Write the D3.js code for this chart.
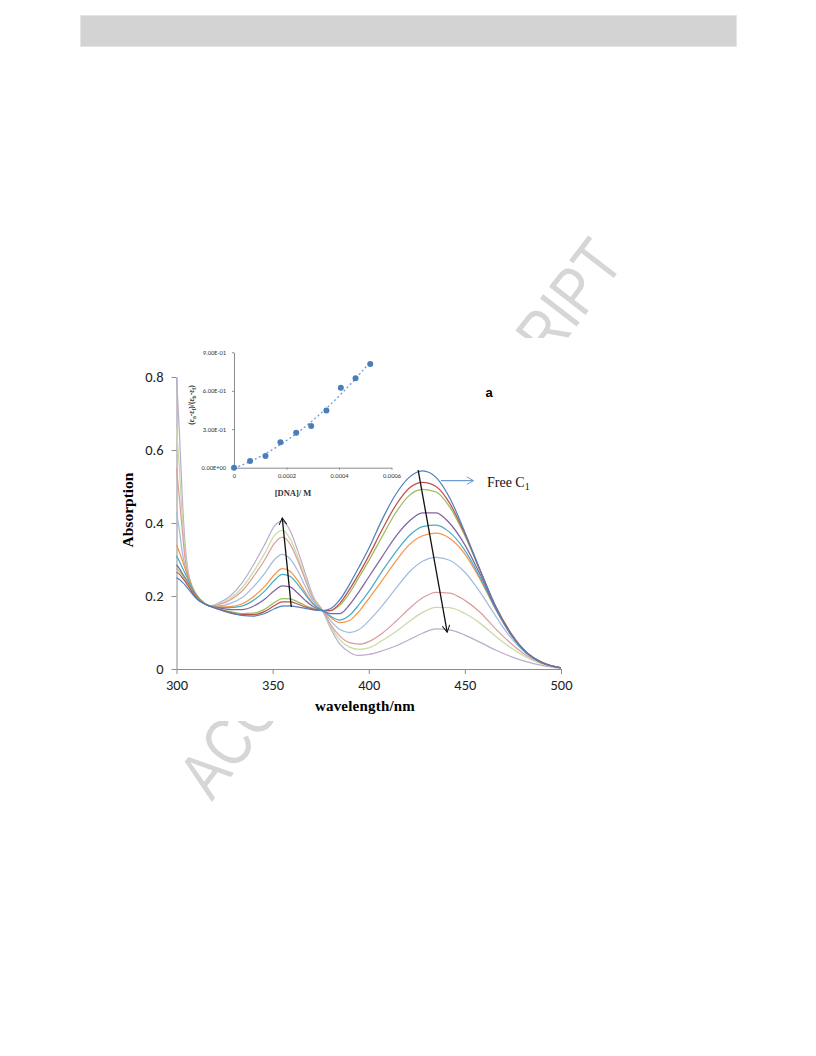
<!DOCTYPE html>
<html><head><meta charset="utf-8">
<script src="https://cdn.jsdelivr.net/npm/d3@7"></script>
<style>body{margin:0;background:#fff}</style>
</head><body>
<svg id="c" width="816" height="1056"></svg>
<script>
// ---------- data ----------
const wavelengths = [300,301.5,303,304.5,306,308,311,314,317,322,328,334,340,346,351,355,359,363,367,371,376,
  380,385,390,395,400,407,414,421,428,435,442,450,458,466,474,482,490,500];
const s1 = [0.25,0.245,0.238,0.23,0.22,0.207,0.19,0.18,0.173,0.163,0.153,0.147,0.145,0.152,0.165,0.172,0.173,0.17,0.166,0.162,0.16,
  0.165,0.19,0.232,0.28,0.33,0.41,0.478,0.525,0.543,0.525,0.47,0.375,0.27,0.17,0.095,0.045,0.017,0.003];
const s2 = [0.265,0.26,0.25,0.24,0.228,0.212,0.192,0.18,0.173,0.164,0.155,0.149,0.149,0.158,0.174,0.184,0.184,0.178,0.17,0.164,0.16,
  0.16,0.18,0.218,0.262,0.31,0.382,0.448,0.495,0.511,0.5,0.455,0.37,0.27,0.172,0.098,0.046,0.018,0.003];
const s3 = [0.275,0.268,0.258,0.246,0.233,0.215,0.194,0.181,0.173,0.165,0.157,0.152,0.153,0.164,0.182,0.193,0.192,0.184,0.174,0.166,0.16,
  0.16,0.175,0.208,0.252,0.297,0.363,0.428,0.475,0.492,0.485,0.445,0.365,0.268,0.172,0.098,0.046,0.018,0.003];
const s4 = [0.285,0.275,0.262,0.25,0.236,0.217,0.195,0.181,0.173,0.167,0.163,0.163,0.172,0.192,0.215,0.228,0.225,0.208,0.188,0.171,0.16,
  0.152,0.152,0.176,0.212,0.252,0.308,0.363,0.405,0.428,0.428,0.4,0.34,0.258,0.168,0.095,0.045,0.018,0.003];
const s5 = [0.31,0.295,0.278,0.262,0.245,0.222,0.197,0.182,0.173,0.169,0.168,0.172,0.188,0.214,0.243,0.259,0.254,0.232,0.204,0.178,0.16,
  0.145,0.134,0.147,0.177,0.212,0.268,0.32,0.365,0.39,0.394,0.375,0.325,0.25,0.165,0.094,0.045,0.018,0.003];
const s6 = [0.34,0.32,0.298,0.275,0.254,0.226,0.198,0.182,0.173,0.17,0.171,0.178,0.198,0.227,0.259,0.275,0.268,0.243,0.21,0.18,0.16,
  0.142,0.127,0.133,0.158,0.193,0.243,0.295,0.34,0.365,0.372,0.358,0.315,0.245,0.163,0.093,0.045,0.018,0.003];
const s7 = [0.43,0.38,0.32,0.28,0.252,0.225,0.198,0.182,0.173,0.173,0.18,0.195,0.225,0.263,0.3,0.314,0.302,0.27,0.226,0.186,0.16,
  0.133,0.108,0.1,0.108,0.132,0.173,0.22,0.265,0.295,0.306,0.298,0.265,0.21,0.145,0.085,0.042,0.017,0.003];
const s8 = [0.55,0.47,0.38,0.3,0.258,0.226,0.198,0.182,0.173,0.176,0.189,0.213,0.253,0.3,0.345,0.361,0.343,0.298,0.244,0.193,0.16,
  0.123,0.09,0.072,0.068,0.075,0.098,0.13,0.165,0.195,0.21,0.208,0.188,0.155,0.11,0.07,0.037,0.016,0.003];
const s9 = [0.66,0.55,0.42,0.32,0.262,0.227,0.198,0.182,0.173,0.178,0.193,0.222,0.266,0.318,0.366,0.38,0.358,0.308,0.25,0.196,0.16,
  0.118,0.08,0.06,0.054,0.058,0.078,0.102,0.13,0.155,0.169,0.168,0.152,0.125,0.09,0.058,0.032,0.014,0.003];
const s10 = [0.80,0.65,0.47,0.34,0.268,0.228,0.198,0.182,0.173,0.181,0.2,0.235,0.285,0.342,0.392,0.405,0.38,0.325,0.262,0.2,0.16,
  0.113,0.068,0.046,0.037,0.04,0.05,0.063,0.08,0.098,0.11,0.107,0.093,0.073,0.052,0.034,0.02,0.01,0.002];
const seriesColors = ["#4F81BD","#C0504D","#9BBB59","#8064A2","#4BACC6","#F79646","#A2BDDD","#DC9E9C","#C9DBA5","#BCADCE"];
const xTicks = [300,350,400,450,500];
const yTicks = [0,0.2,0.4,0.6,0.8];

// inset data
const dnaConc = [0,0.0000612,0.00012,0.000177,0.000237,0.000294,0.000352,0.000407,0.000463,0.000519];
const ratio   = [0,0.052,0.091,0.198,0.273,0.325,0.447,0.624,0.697,0.809];
const insetXTicks = [0,0.0002,0.0004,0.0006];
const insetYTicks = [0,0.3,0.6,0.9];
const insetYLabels = ["0.00E+00","3.00E-01","6.00E-01","9.00E-01"];

// arrows in data coords
const arrowUp = [[359.7,0.17],[355,0.414]];
const arrowDown = [[425.7,0.545],[440.8,0.101]];
const freeArrow = [[437.5,0.516],[454.5,0.516]];

// ---------- drawing ----------
const svg = d3.select("#c");
svg.append("rect").attr("width",816).attr("height",1056).attr("fill","#fff");

// header bar
svg.append("rect").attr("x",80.5).attr("y",15.5).attr("width",656).attr("height",31)
  .attr("fill","#d3d3d3").attr("stroke","#e6e6e6");

// watermark
svg.append("text").attr("transform","translate(400,518) rotate(-52.5)")
  .attr("text-anchor","middle").attr("dominant-baseline","central")
  .attr("font-family","Liberation Sans, Arial, sans-serif").attr("font-size",67)
  .attr("fill","#d6d6d6").attr("textLength",680).attr("lengthAdjust","spacingAndGlyphs")
  .text("ACCEPTED MANUSCRIPT");

// white image area
svg.append("rect").attr("x",100).attr("y",338).attr("width",545).attr("height",383).attr("fill","#fff");

const x = d3.scaleLinear().domain([300,500]).range([176.5,561]);
const y = d3.scaleLinear().domain([0,0.8]).range([669,377]);

const axisColor = "#8c8c8c";
const gx = svg.append("g").attr("transform","translate(0,669)")
  .call(d3.axisBottom(x).tickValues(xTicks).tickSize(5).tickSizeOuter(0).tickPadding(6));
const gy = svg.append("g").attr("transform","translate(176.5,0)")
  .call(d3.axisLeft(y).tickValues(yTicks).tickSize(5).tickSizeOuter(0).tickPadding(8)
    .tickFormat(d=>d===0?"0":d3.format(".1f")(d)));
[gx,gy].forEach(g=>{
  g.select(".domain").attr("stroke",axisColor);
  g.selectAll(".tick line").attr("stroke",axisColor);
  g.selectAll(".tick text").attr("font-family","Carlito, Lato, sans-serif").attr("font-size",14.5).attr("fill","#222");
});

// curves
const allSeries = [s1,s2,s3,s4,s5,s6,s7,s8,s9,s10];
const line = d3.line().x((d,i)=>x(wavelengths[i])).y(d=>y(d)).curve(d3.curveMonotoneX);
allSeries.slice().reverse().forEach((s,k)=>{
  const i = allSeries.length-1-k;
  svg.append("path").datum(s).attr("d",line).attr("fill","none")
    .attr("stroke",seriesColors[i]).attr("stroke-width",1.25);
});

// axis titles
svg.append("text").attr("transform","translate(133,510) rotate(-90)").attr("text-anchor","middle")
  .attr("font-family","Liberation Serif, Times New Roman, serif").attr("font-weight","bold").attr("font-size",15.5)
  .text("Absorption");
svg.append("text").attr("x",365).attr("y",711).attr("text-anchor","middle")
  .attr("font-family","Liberation Serif, Times New Roman, serif").attr("font-weight","bold").attr("font-size",15)
  .attr("letter-spacing",0.2).text("wavelength/nm");

// markers
const defs = svg.append("defs");
function mk(id,color){
  defs.append("marker").attr("id",id).attr("viewBox","-10 -6 12 12").attr("refX",0).attr("refY",0)
    .attr("markerWidth",10).attr("markerHeight",10).attr("markerUnits","userSpaceOnUse").attr("orient","auto")
    .append("path").attr("d","M-8,-4.5 L0,0 L-8,4.5").attr("fill","none").attr("stroke",color).attr("stroke-width",1.2);
}
mk("ab","#111"); mk("abl","#6f9bd3");
function arrow(pts,color,mid,w){
  svg.append("line").attr("x1",x(pts[0][0])).attr("y1",y(pts[0][1])).attr("x2",x(pts[1][0])).attr("y2",y(pts[1][1]))
    .attr("stroke",color).attr("stroke-width",w).attr("marker-end",`url(#${mid})`);
}
arrow(arrowUp,"#111","ab",1.3);
arrow(arrowDown,"#111","ab",1.3);
arrow(freeArrow,"#6f9bd3","abl",1.2);

const ft = svg.append("text").attr("x",x(461.5)).attr("y",487)
  .attr("font-family","Liberation Serif, Times New Roman, serif").attr("font-size",14).attr("fill","#111");
ft.append("tspan").text("Free C");
ft.append("tspan").attr("font-size",10).attr("dy",3).text("1");

svg.append("text").attr("x",489).attr("y",397).attr("text-anchor","middle")
  .attr("font-family","Liberation Sans, Arial, sans-serif").attr("font-weight","bold").attr("font-size",13)
  .text("a");

// ---------- inset ----------
const ix = d3.scaleLinear().domain([0,0.0006]).range([234,391.5]);
const iy = d3.scaleLinear().domain([0,0.9]).range([467.7,352.3]);
const igx = svg.append("g").attr("transform","translate(0,467.7)")
  .call(d3.axisBottom(ix).tickValues(insetXTicks).tickSize(2).tickSizeOuter(0).tickPadding(4)
    .tickFormat(d=>d===0?"0":d3.format(".4f")(d)));
const igy = svg.append("g").attr("transform","translate(234,0)")
  .call(d3.axisLeft(iy).tickValues(insetYTicks).tickSize(2).tickSizeOuter(0).tickPadding(6)
    .tickFormat((d,i)=>insetYLabels[i]));
[igx,igy].forEach(g=>{
  g.select(".domain").attr("stroke",axisColor);
  g.selectAll(".tick line").attr("stroke",axisColor);
  g.selectAll(".tick text").attr("font-family","Carlito, Lato, sans-serif").attr("font-size",6.5).attr("fill","#333");
});

// trendline (least-squares quadratic through the points)
(function(){
  const n=dnaConc.length; let S=[[0,0,0],[0,0,0],[0,0,0]], T=[0,0,0];
  for(let k=0;k<n;k++){const v=[1,dnaConc[k],dnaConc[k]**2];
    for(let a=0;a<3;a++){T[a]+=v[a]*ratio[k];for(let b=0;b<3;b++)S[a][b]+=v[a]*v[b];}}
  const M=S.map((r,i)=>[...r,T[i]]);
  for(let c=0;c<3;c++){let p=c;for(let r=c+1;r<3;r++)if(Math.abs(M[r][c])>Math.abs(M[p][c]))p=r;
    [M[c],M[p]]=[M[p],M[c]];for(let r=0;r<3;r++){if(r===c)continue;const f=M[r][c]/M[c][c];
      for(let k=c;k<4;k++)M[r][k]-=f*M[c][k];}}
  const co=[M[0][3]/M[0][0],M[1][3]/M[1][1],M[2][3]/M[2][2]];
  const xs=d3.range(0,dnaConc[n-1]*1.0001,dnaConc[n-1]/60);
  svg.append("path").datum(xs).attr("fill","none").attr("stroke","#6f9bd3").attr("stroke-width",1.3)
    .attr("stroke-dasharray","2,2.5")
    .attr("d",d3.line().x(d=>ix(d)).y(d=>iy(Math.max(0,co[0]+co[1]*d+co[2]*d*d))));
})();
svg.selectAll("circle.pt").data(dnaConc).enter().append("circle").attr("class","pt")
  .attr("cx",d=>ix(d)).attr("cy",(d,i)=>iy(ratio[i])).attr("r",3).attr("fill","#4A7EBB");

svg.append("text").attr("x",293).attr("y",495.5).attr("text-anchor","middle")
  .attr("font-family","Liberation Serif, Times New Roman, serif").attr("font-weight","bold").attr("font-size",8.5)
  .attr("fill","#333").text("[DNA]/ M");
const yt = svg.append("text").attr("transform","translate(194,405) rotate(-90)").attr("text-anchor","middle")
  .attr("font-family","Liberation Serif, Times New Roman, serif").attr("font-weight","bold").attr("font-size",7.5)
  .attr("fill","#333");
yt.append("tspan").text("(ε");
yt.append("tspan").attr("font-size",5.5).attr("dy",1.5).text("a");
yt.append("tspan").attr("dy",-1.5).text("-ε");
yt.append("tspan").attr("font-size",5.5).attr("dy",1.5).text("f");
yt.append("tspan").attr("dy",-1.5).text(")/(ε");
yt.append("tspan").attr("font-size",5.5).attr("dy",1.5).text("b");
yt.append("tspan").attr("dy",-1.5).text("-ε");
yt.append("tspan").attr("font-size",5.5).attr("dy",1.5).text("f");
yt.append("tspan").attr("dy",-1.5).text(")");
</script>
</body></html>
